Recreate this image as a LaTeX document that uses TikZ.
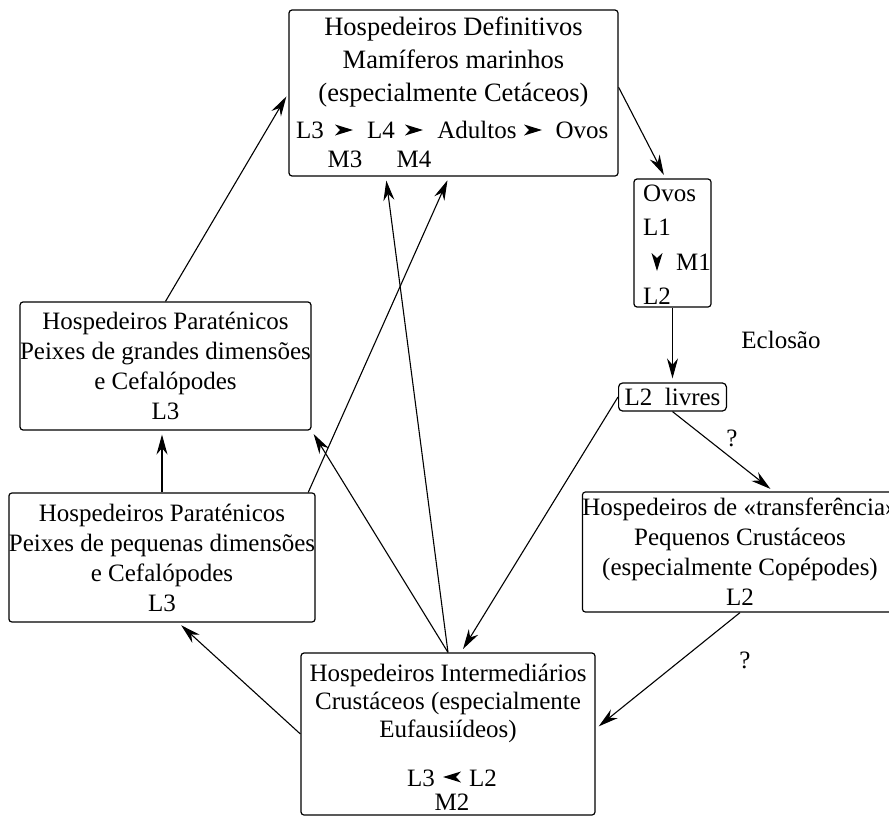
\documentclass[tikz,border=0pt]{standalone}
\usepackage{fontspec}
\setmainfont{Liberation Serif}
\usetikzlibrary{arrows.meta}

\begin{document}
\begin{tikzpicture}[x=1pt,y=-1pt,font=\fontsize{25}{30}\selectfont]

    \tikzset{
      host/.style={
        draw,
        line width=1.2pt,
        rounded corners=3pt,
        align=center,
        inner sep=0pt,
      },
      flow/.style={line width=1.1pt,-{Stealth[length=20pt,width=11pt]},shorten >=4pt},
      molt/.pic={\fill (9,0) -- (-9,5.5) -- (-4,0) -- (-9,-5.5) -- cycle;},
    }
    \useasboundingbox (0,0) rectangle (889,817);

    % boxes
    \node[host,minimum width=329pt,minimum height=166pt] (defin) at (453.5,93) {};
    \node[align=center,font=\fontsize{26.5}{33}\selectfont] (defin-txt) at (453.5,62) {Hospedeiros Definitivos\\Mamíferos marinhos\\(especialmente Cetáceos)};
    \node (l3a) at (310,130) {L3};
    \pic at (344,130) {molt};
    \node (l4a) at (381,130) {L4};
    \pic at (414,130) {molt};
    \node (adult) at (477,130) {Adultos};
    \pic at (533,130) {molt};
    \node (egg) at (582,130) {Ovos};
    \node (m3) at (345,159) {M3};
    \node (m4) at (414,159) {M4};

    \node[host,minimum width=77pt,minimum height=128pt] (ovos) at (672.5,243) {};
    \node[anchor=west,inner sep=0pt] (ovos-t) at (643,193) {Ovos};
    \node[anchor=west,inner sep=0pt] (l1) at (643,227) {L1};
    \pic[rotate=-90] at (657,262) {molt};
    \node[anchor=west,inner sep=0pt] (m1) at (676,262) {M1};
    \node[anchor=west,inner sep=0pt] (l2a) at (643,296) {L2};

    \node[host,inner xsep=6pt,minimum height=28pt,rounded corners=4pt] (livres) at (672.5,397) {L2\ \ livres};

    \node[host,minimum width=308pt,minimum height=120pt] (transf) at (740,552) {Hospedeiros de «transferência»\\Pequenos Crustáceos\\(especialmente Copépodes)\\L2};

    \node[host,minimum width=285pt,minimum height=128pt] (great) at (165.5,366) {Hospedeiros Paraténicos\\Peixes de grandes dimensões\\e Cefalópodes\\L3};
    \node[host,minimum width=304pt,minimum height=129pt] (small) at (162,557.5) {Hospedeiros Paraténicos\\Peixes de pequenas dimensões\\e Cefalópodes\\L3};

    \node[host,minimum width=294pt,minimum height=162pt] (interm) at (448,734) {};
    \node[align=center,font=\fontsize{25}{28}\selectfont] (interm-txt) at (448,703) {Hospedeiros Intermediários\\Crustáceos (especialmente\\Eufausiídeos)};
    \node (l3b) at (421,778) {L3};
    \pic[rotate=180] at (452,777) {molt};
    \node (l2b) at (483,778) {L2};
    \node (m2) at (452,802) {M2};

    % labels
    \node (ecl) at (781,340) {Eclosão};
    \node (q1) at (732,438) {?};
    \node (q2) at (745,660) {?};

    % connectors
    \draw[flow] (defin.2) -- (ovos.96);
    \draw[flow] (ovos.south) -- (livres.north);
    \draw[flow] (livres.south) -- (transf.61);
    \draw[flow] (transf.south) -- (interm.2);
    \draw[flow] (livres.west) -- (interm.81);
    \draw[flow] (interm.north) -- (great.south east);
    \draw[flow] (interm.north) -- (defin.231);
    \draw[flow] (interm.west) -- (small.284);
    \draw[flow] (small.24) -- (defin.267);
    \draw[flow] (small.north) -- (small.north |- great.south);
    \draw[flow] (great.north) -- (defin.west);

\end{tikzpicture}
\end{document}
